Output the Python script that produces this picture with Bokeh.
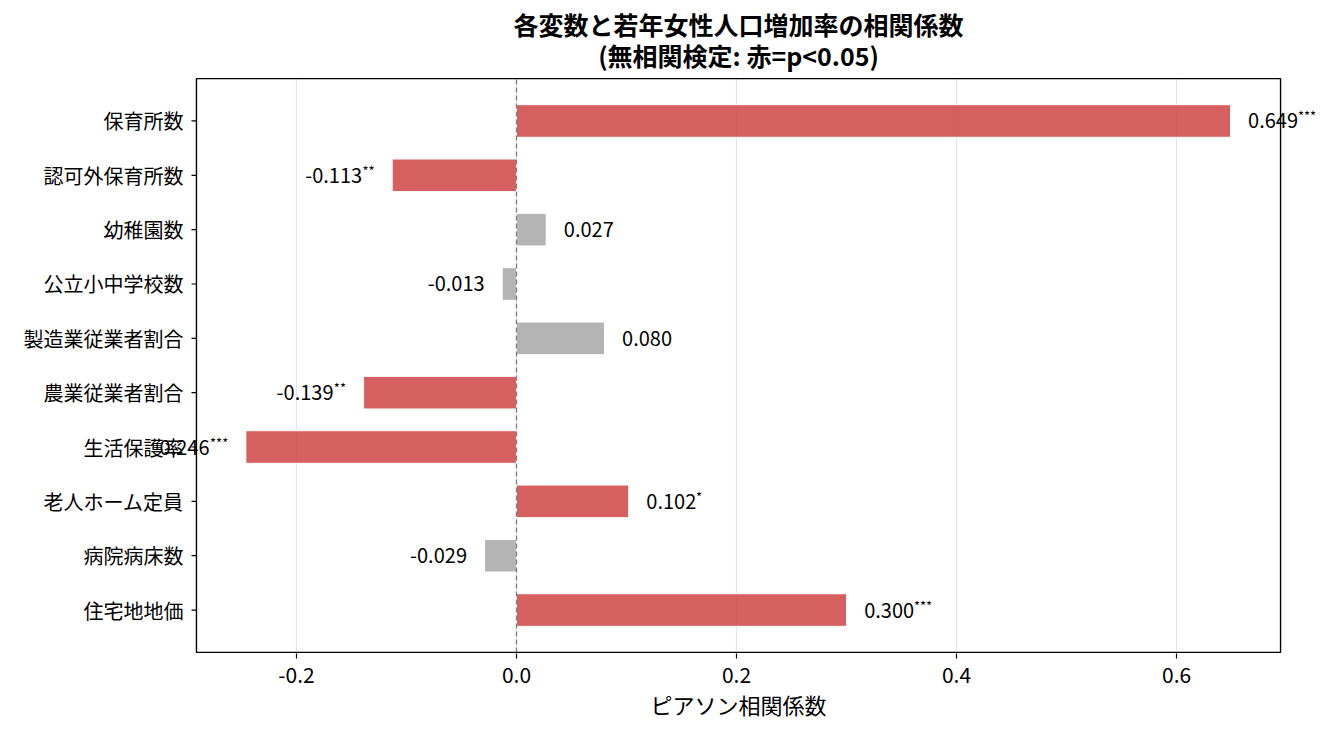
from bokeh.plotting import figure
from bokeh.models import (ColumnDataSource, Range1d, FixedTicker, Label,
                          NumeralTickFormatter)
from bokeh.embed import file_html
from bokeh.resources import INLINE

# --- data ---
variables = ["保育所数", "認可外保育所数", "幼稚園数", "公立小中学校数", "製造業従業者割合",
             "農業従業者割合", "生活保護率", "老人ホーム定員", "病院病床数", "住宅地地価"]
corr = [0.649, -0.113, 0.027, -0.013, 0.080, -0.139, -0.246, 0.102, -0.029, 0.300]
stars = ["***", "**", "", "", "", "**", "***", "*", "", "***"]
xticks = [-0.2, 0.0, 0.2, 0.4, 0.6]
title_lines = ["各変数と若年女性人口増加率の相関係数", "(無相関検定: 赤=p<0.05)"]

FONT = "Noto Sans CJK JP"
RED = "#cf4444"
GRAY = "#a7a7a7"

# visible axes box (data units); the frame itself is larger so that value
# labels can spill over the spines and the title can sit above the box
X0, X1 = -0.2909, 0.6945
Y0, Y1 = 9.78, -0.78
XPAD = 0.0345
YPAD = 0.02
YTOP = 1.417   # room for the title above the box

ypos = list(range(len(variables)))
sig = [s != "" for s in stars]

num_fs = 20
star_fs = 13


def num_width(txt):
    # rough advance widths (em) for the latin part of Noto Sans CJK
    w = 0
    for ch in txt:
        if ch == ".":
            w += 0.27
        elif ch == "-":
            w += 0.33
        else:
            w += 0.555
    return w * num_fs


src = ColumnDataSource(dict(y=ypos, right=corr,
                            color=[RED if s else GRAY for s in sig]))

p = figure(width=1325, height=727, output_backend="svg", toolbar_location=None,
           x_range=Range1d(X0 - XPAD, X1 + XPAD),
           y_range=Range1d(Y0 + YPAD, Y1 - YPAD - YTOP),
           min_border_left=158, min_border_right=7, min_border_top=0, min_border_bottom=74,
           title=None)
p.outline_line_color = None

# title, two centred lines
for off, line in zip([55, 24], title_lines):
    p.add_layout(Label(x=(X0 + X1) / 2, y=Y1, y_offset=off, text=line, text_align="center",
                       text_baseline="middle", text_font=FONT, text_font_size="25px",
                       text_font_style="bold", text_color="black"))

# vertical grid
p.segment(x0=xticks, x1=xticks, y0=[Y0] * len(xticks), y1=[Y1] * len(xticks),
          line_color="#e6e6e6", line_width=1.2)

p.hbar(y="y", right="right", left=0, height=0.6, source=src, fill_color="color",
       fill_alpha=0.85, line_color="white", line_width=1)

p.segment(x0=0, x1=0, y0=Y0, y1=Y1, line_color="#7f7f7f", line_dash="5 3", line_width=1.3)

# axes box and y ticks
p.quad(left=X0, right=X1, top=Y1, bottom=Y0, fill_color=None, line_color="black",
       line_width=1.4)
p.segment(x0=[X0] * len(ypos), x1=[X0 - 0.0045] * len(ypos), y0=ypos, y1=ypos,
          line_color="black", line_width=1.2)

# value labels with raised significance stars
pad = 0.016
for yv, v, s in zip(ypos, corr, stars):
    num = "%.3f" % v
    if v >= 0:
        x = v + pad
        p.add_layout(Label(x=x, y=yv, text=num, text_align="left", text_baseline="middle",
                           text_font=FONT, text_font_size="%dpx" % num_fs, text_color="black"))
        if s:
            p.add_layout(Label(x=x, y=yv, text=s, text_align="left", text_baseline="middle",
                               x_offset=num_width(num), y_offset=5, text_font=FONT,
                               text_font_size="%dpx" % star_fs, text_color="black"))
    else:
        x = v - pad
        sw = len(s) * 0.48 * star_fs
        p.add_layout(Label(x=x, y=yv, text=num, text_align="right", text_baseline="middle",
                           x_offset=-sw, text_font=FONT, text_font_size="%dpx" % num_fs,
                           text_color="black"))
        if s:
            p.add_layout(Label(x=x, y=yv, text=s, text_align="right", text_baseline="middle",
                               y_offset=5, text_font=FONT,
                               text_font_size="%dpx" % star_fs, text_color="black"))

# axes
p.xaxis.ticker = FixedTicker(ticks=xticks)
p.xaxis.formatter = NumeralTickFormatter(format="0.0")
p.xaxis.axis_label = "ピアソン相関係数"
p.xaxis.axis_label_text_font = FONT
p.xaxis.axis_label_text_font_size = "22px"
p.xaxis.axis_label_text_font_style = "normal"
p.xaxis.axis_label_text_color = "black"
p.xaxis.axis_label_standoff = 2
p.xaxis.major_label_text_font_size = "21px"
p.xaxis.major_label_standoff = 8
p.xaxis.major_tick_out = 5

p.yaxis.ticker = FixedTicker(ticks=ypos)
p.yaxis.major_label_overrides = {i: v for i, v in enumerate(variables)}
p.yaxis.major_label_text_font_size = "20px"
p.yaxis.major_tick_out = 0
p.yaxis.major_tick_line_color = None
p.yaxis.major_label_standoff = -25

for ax in (p.xaxis, p.yaxis):
    ax.major_label_text_font = FONT
    ax.major_label_text_color = "black"
    ax.minor_tick_line_color = None
    ax.major_tick_in = 0
    ax.major_tick_line_width = 1.2
    ax.axis_line_color = None
p.xaxis.major_tick_line_color = "black"

p.xgrid.grid_line_color = None
p.ygrid.grid_line_color = None

p.background_fill_color = "white"
p.border_fill_color = "white"

open("out.html", "w").write(file_html(p, INLINE))
